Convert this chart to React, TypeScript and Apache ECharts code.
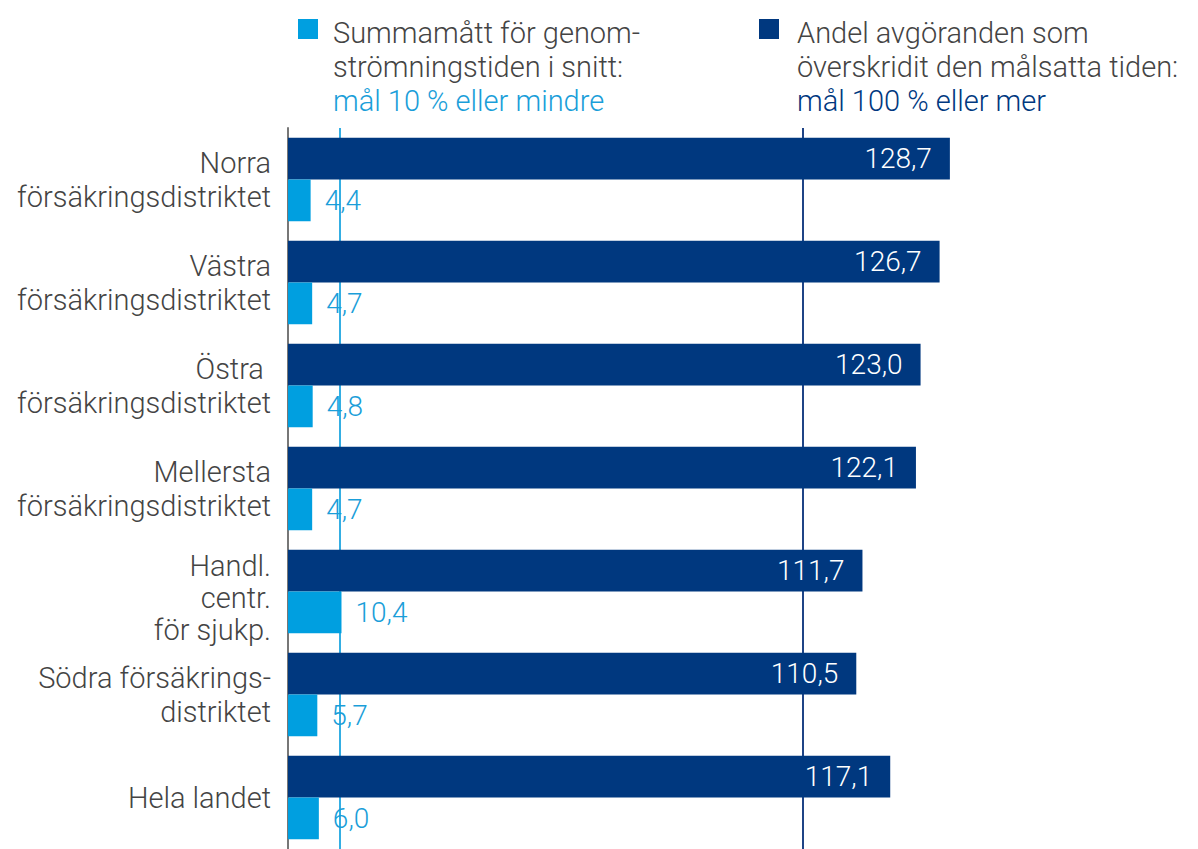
import React, { useEffect, useRef } from "react";
import * as echarts from "echarts";

const categories = [
  "Norra\nförsäkringsdistriktet",
  "Västra\nförsäkringsdistriktet",
  "Östra \nförsäkringsdistriktet",
  "Mellersta\nförsäkringsdistriktet",
  "Handl.\ncentr.\nför sjukp.",
  "Södra försäkrings-\ndistriktet",
  "Hela landet",
];
const andelValues = [128.7, 126.7, 123.0, 122.1, 111.7, 110.5, 117.1];
const summaValues = [4.4, 4.7, 4.8, 4.7, 10.4, 5.7, 6.0];
const andelTarget = 100;
const summaTarget = 10;
const andelName = "Andel avgöranden som överskridit den målsatta tiden";
const summaName = "Summamått för genomströmningstiden i snitt";

const DARK = "#00387f";
const LIGHT = "#009fe0";
const LIGHT_TEXT = "#1a9ed9";
const GRAY = "#444444";
const FONT = "Roboto, 'Noto Sans', sans-serif";
const W = 300;

const fmt = (v: number) => v.toFixed(1).replace(".", ",");

export default function App() {
  const ref = useRef<HTMLDivElement>(null);
  useEffect(() => {
    if (!ref.current) return;
    const chart = echarts.init(ref.current, null, { renderer: "svg" });
    const base = { fontSize: 29, color: GRAY, fontFamily: FONT, fontWeight: W, align: "right" };
    chart.setOption({
      animation: false,
      backgroundColor: "#ffffff",
      textStyle: { fontFamily: FONT, fontWeight: W },
      grid: { left: 288, top: 128, width: 720, height: 724.5, containLabel: false },
      xAxis: {
        type: "value",
        min: 0,
        max: 140,
        interval: 10,
        show: false,
      },
      yAxis: {
        type: "category",
        data: categories,
        inverse: true,
        axisLine: { show: true, lineStyle: { color: "#777777", width: 2 } },
        axisTick: { show: false },
        axisLabel: {
          margin: 17,
          align: "right",
          formatter: (v: string) => {
            const lines = v.split("\n");
            if (lines.length > 2) {
              return ["{s| }", ...lines.map((l) => `{c|${l}}`)].join("\n");
            }
            return lines.map((l) => `{a|${l}}`).join("\n");
          },
          rich: {
            a: { ...base, lineHeight: 34 },
            c: { ...base, lineHeight: 32 },
            s: { fontSize: 2, lineHeight: 12 },
          },
        },
      },
      graphic: [
        {
          type: "group",
          left: 298,
          top: 16,
          children: [
            { type: "rect", x: 0, y: 3, shape: { width: 20, height: 20 }, style: { fill: LIGHT } },
            {
              type: "text",
              x: 35,
              y: 0,
              style: {
                text: "Summamått för genom-\nströmningstiden i snitt:\n{b|mål 10 % eller mindre}",
                fontSize: 29,
                lineHeight: 34,
                fontWeight: W,
                fill: GRAY,
                fontFamily: FONT,
                rich: { b: { fontSize: 29, lineHeight: 34, fontWeight: W, fill: LIGHT_TEXT, fontFamily: FONT } },
              },
            },
          ],
        },
        {
          type: "group",
          left: 759,
          top: 16,
          children: [
            { type: "rect", x: 0, y: 3, shape: { width: 20, height: 20 }, style: { fill: DARK } },
            {
              type: "text",
              x: 38,
              y: 0,
              style: {
                text: "Andel avgöranden som\növerskridit den målsatta tiden:\n{b|mål 100 % eller mer}",
                fontSize: 29,
                lineHeight: 34,
                fontWeight: W,
                fill: GRAY,
                fontFamily: FONT,
                rich: { b: { fontSize: 29, lineHeight: 34, fontWeight: W, fill: DARK, fontFamily: FONT } },
              },
            },
          ],
        },
      ],
      series: [
        {
          name: andelName,
          type: "bar",
          data: andelValues,
          barGap: "0%",
          barCategoryGap: "19%",
          itemStyle: { color: DARK },
          label: {
            show: true,
            position: "insideRight",
            distance: 18,
            color: "#ffffff",
            fontSize: 28,
            fontWeight: W,
            fontFamily: FONT,
            formatter: (p: any) => fmt(p.value),
          },
          markLine: {
            silent: true,
            z: 1,
            symbol: "none",
            label: { show: false },
            lineStyle: { color: "#1f4486", width: 2, type: "solid" },
            data: [{ xAxis: andelTarget }],
          },
        },
        {
          name: summaName,
          type: "bar",
          data: summaValues,
          barGap: "0%",
          barCategoryGap: "19%",
          itemStyle: { color: LIGHT },
          label: {
            show: true,
            position: "right",
            distance: 14,
            color: LIGHT_TEXT,
            fontSize: 28,
            fontWeight: W,
            fontFamily: FONT,
            formatter: (p: any) => fmt(p.value),
          },
          markLine: {
            silent: true,
            z: 1,
            symbol: "none",
            label: { show: false },
            lineStyle: { color: "#34aee3", width: 2, type: "solid" },
            data: [{ xAxis: summaTarget }],
          },
        },
      ],
    });
    return () => chart.dispose();
  }, []);
  return (
    <div
      ref={ref}
      style={{ position: "absolute", left: 0, top: 0, width: 1198, height: 849, background: "#fff" }}
    />
  );
}
